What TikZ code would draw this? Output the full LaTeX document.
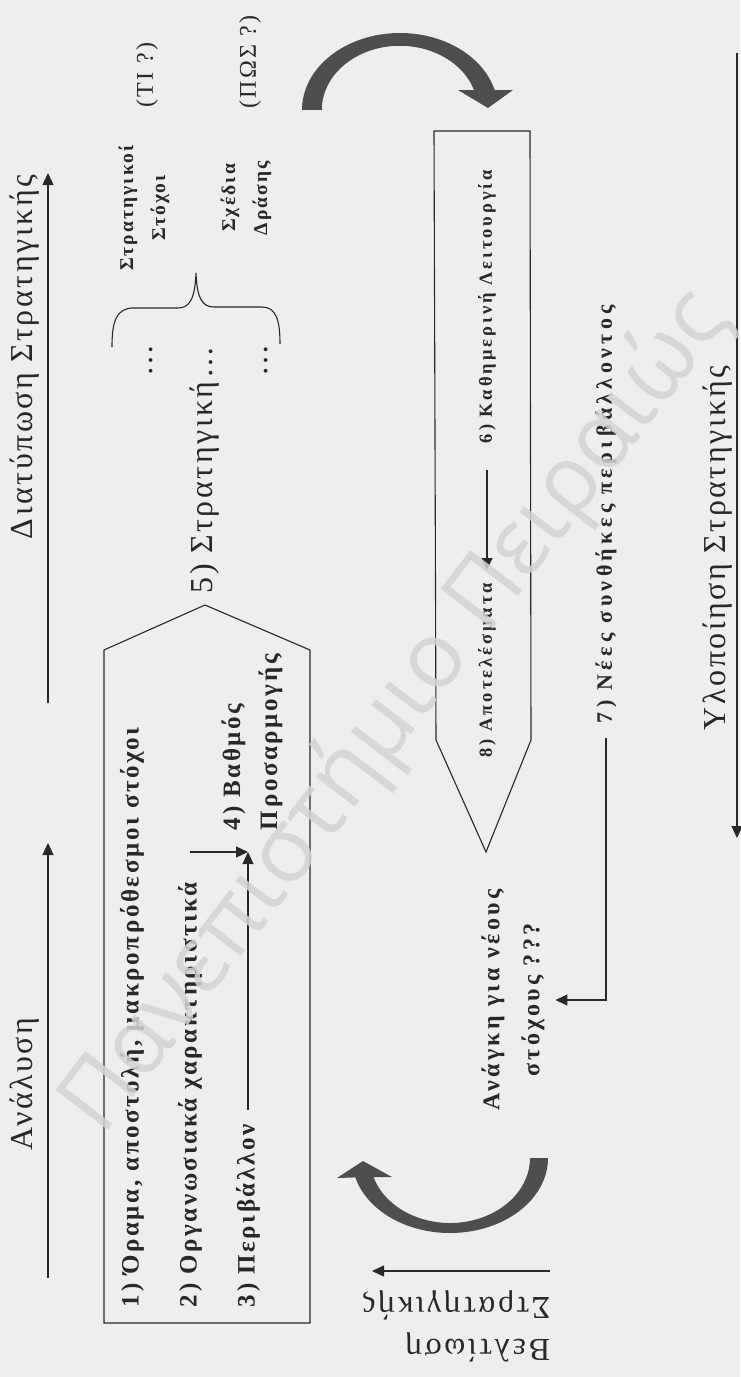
\documentclass[tikz,border=0pt]{standalone}
\usepackage{fontspec}
\setmainfont{Liberation Serif}
\newfontfamily\wmfont{Open Sans}
\usetikzlibrary{arrows.meta,calc}

\definecolor{paper}{RGB}{238,238,236}
\definecolor{ink}{RGB}{40,40,40}
\definecolor{arcfill}{RGB}{78,78,78}
\definecolor{wmark}{RGB}{212,212,212}

\tikzset{
  every node/.style={inner sep=0pt, outer sep=0pt, text=ink},
  frame/.style={draw=ink, line width=1.1pt, line join=miter},
  conn/.style={draw=ink, line width=1.1pt, -{Triangle[length=12pt,width=11pt]}},
  plainline/.style={draw=ink, line width=1.1pt},
  lighttxt/.style={font=\fontsize{32}{42}\selectfont\addfontfeatures{LetterSpace=8}},
  smalltxt/.style={font=\fontsize{24}{30}\selectfont\addfontfeatures{LetterSpace=10}},
  boldtxt/.style={font=\fontsize{25}{37}\selectfont\bfseries\addfontfeatures{LetterSpace=10.5}},
  subtxt/.style={font=\fontsize{19.5}{32}\selectfont\bfseries\addfontfeatures{LetterSpace=11}},
  opstxt/.style={font=\fontsize{18.5}{22}\selectfont\bfseries\addfontfeatures{LetterSpace=16}},
  envtxt/.style={font=\fontsize{22}{30}\selectfont\bfseries\addfontfeatures{LetterSpace=20}},
  needtxt/.style={font=\fontsize{24}{40}\selectfont\bfseries\addfontfeatures{LetterSpace=14}},
  vert/.style={rotate=90},
}

\begin{document}
\begin{tikzpicture}[x=1pt,y=-1pt]
% page
\fill[paper] (0,0) rectangle (740,1377);
\useasboundingbox (0,0) rectangle (740,1377);

% ---- phase arrows along the border ----
\node[lighttxt, vert] (analysis) at (25,1084) {Ανάλυση};
\coordinate (an0) at (48,1278);
\coordinate (an1) at (48,843);
\draw[conn] (an0) -- (an1);

\node[lighttxt, vert] (formulation) at (25,357) {Διατύπωση Στρατηγικής};
\coordinate (fo0) at (48,703);
\coordinate (fo1) at (48,173);
\draw[conn] (fo0) -- (fo1);

\node[lighttxt, vert] (implement) at (718,548) {Υλοποίηση Στρατηγικής};
\coordinate (im0) at (737,53);
\coordinate (im1) at (737,838);
\draw[conn] (im0) -- (im1);

\node[lighttxt, rotate=180, align=left, anchor=west] (improve) at (550,1326)
  {Βελτίωση\\Στρατηγικής};
\coordinate (be0) at (550,1271);
\coordinate (be1) at (372,1271);
\draw[conn] (be0) -- (be1);

% ---- analysis block ----
\draw[frame] (104,1323) -- (310,1323) -- (310,650) -- (205,605) -- (104,650) -- cycle;

\node[boldtxt, vert, anchor=west] (vision) at (132,1307)
  {1) Όραμα, αποστολή, μακροπρόθεσμοι στόχοι};
\node[boldtxt, vert, anchor=west] (org) at (190,1307)
  {2) Οργανωσιακά χαρακτηριστικά};
\node[boldtxt, vert, anchor=west] (env) at (248,1307)
  {3) Περιβάλλον};
\node[boldtxt, vert, anchor=west, align=left] (fit) at (252,830)
  {4) Βαθμός\\Προσαρμογής};

\coordinate (fitin) at (248,852);
\draw[conn] (org.east |- fitin) -- (fitin);
\draw[conn] ([yshift=14pt]env.east) -- (env.east |- fitin);

% ---- strategy ----
\node[lighttxt, vert, anchor=west] (strategy) at (205,593) {5) Στρατηγική…};
\node[lighttxt, vert] (dotsA) at (151,360) {…};
\node[lighttxt, vert] (dotsB) at (266,360) {…};

\draw[plainline] (112,347) .. controls (112,322) and (116,309) .. (132,308)
  -- (178,308) .. controls (190,308) and (195,298) .. (196,273)
  .. controls (197,298) and (202,307) .. (214,307)
  -- (262,307) .. controls (276,307) and (280,320) .. (280,344);

\node[subtxt, vert, align=center] (goals) at (144,208) {Στρατηγικοί\\Στόχοι};
\node[subtxt, vert, align=center] (plans) at (246,198) {Σχέδια\\Δράσης};
\node[smalltxt, vert] (what) at (147,75) {(ΤΙ ?)};
\node[smalltxt, vert] (how) at (250,62) {(ΠΩΣ ?)};

% ---- implementation block ----
\draw[frame] (434,131) -- (530,131) -- (531,740) -- (486,852) -- (436,740) -- cycle;
\node[opstxt, vert, anchor=west] (daily) at (487,443) {6) Καθημερινή Λειτουργία};
\node[opstxt, vert, anchor=east] (results) at (487,583) {8) Αποτελέσματα};
\draw[conn] ([yshift=-27pt]daily.west) -- ([yshift=13pt]results.east);

\node[envtxt, vert, anchor=west] (newenv) at (606,723) {7) Νέες συνθήκες περιβάλλοντος};
\node[needtxt, vert, align=center] (need) at (513,1000) {Ανάγκη για νέους\\στόχους ???};
\draw[conn] ([yshift=-15pt]newenv.west) |- ([xshift=11pt]need.south);

% ---- cycle arrows ----
\fill[arcfill] (302,110) arc[start angle=180, end angle=345, x radius=98, y radius=77]
  -- (513,90) -- (488,108) -- (458,90) -- (474,90)
  arc[start angle=342, end angle=180, x radius=78, y radius=64] -- cycle;

\fill[arcfill] (548,1158) arc[start angle=0, end angle=165, x radius=98, y radius=75]
  -- (337,1178) -- (363,1161) -- (392,1177) -- (373.5,1177)
  arc[start angle=163, end angle=0, x radius=80, y radius=65] -- cycle;

% ---- watermark ----
\node[text=wmark, opacity=0.85, rotate=52.5, font=\wmfont\fontsize{92}{92}\selectfont]
  (wm) at (396,712) {Πανεπιστήμιο Πειραιώς};
\end{tikzpicture}
\end{document}
